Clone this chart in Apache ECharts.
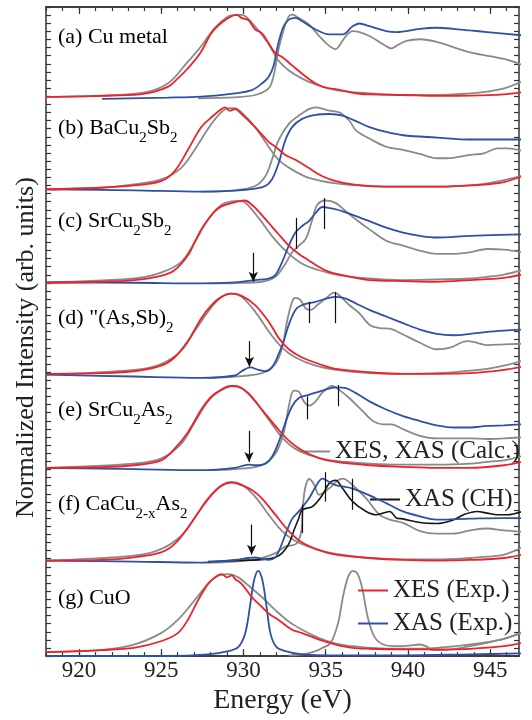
<!DOCTYPE html>
<html>
<head>
<meta charset="utf-8">
<script src="https://cdn.jsdelivr.net/npm/echarts@6/dist/echarts.min.js"></script>
<style>html,body{margin:0;padding:0;background:#fff;}#c{width:532px;height:720px;}</style>
</head>
<body>
<div id="c"></div>
<script>
// ---------- DATA (energy in eV, intensity in normalized arb. units, per panel) ----------
const xTickLabels = [920, 925, 930, 935, 940, 945];
const panelLabels = ['(a) Cu metal', '(b) BaCu{s|2}Sb{s|2}', '(c) SrCu{s|2}Sb{s|2}', '(d) "(As,Sb){s|2}', '(e) SrCu{s|2}As{s|2}', '(f) CaCu{s|2-x}As{s|2}', '(g) CuO'];
const panelOffsets = [603, 503, 403, 304, 203, 103, 4];

const aXesExp = [[918,0],[922,1.4],[924,3.5],[925.4,10.9],[926.0,19.8],[926.6,30.4],[927.4,48],[928.06,69],[928.67,80],[929.28,87],[929.6,88.6],[929.9,85],[930.3,83],[930.7,73],[931.1,69],[931.5,59],[931.9,48],[932.35,43],[932.96,34],[933.57,25],[934.39,14.5],[935.0,10],[935.6,8.5],[936.8,4],[937.7,2.8],[939.7,2.1],[941.75,1.1],[943.8,1.4],[945.8,2.8],[946.9,5]];
const aXesCalc = [[918,0],[921.3,1.4],[924,5],[925.4,14.5],[926.6,37.5],[927.44,55],[928.26,74.6],[929.08,87],[929.49,88.6],[929.9,88.6],[930.7,76],[931.5,58],[932.14,39],[932.76,28.6],[933.57,19.8],[934.39,13.4],[935.62,7.4],[937.66,3.9],[939.7,2.1],[941.75,2.1],[943.79,3.9],[944.8,5.7],[945.84,9.2],[946.9,16.3]];
const aXasExp = [[921.4,-2.1],[925.4,-0.7],[927.44,0.4],[929.49,3.9],[930.51,7.4],[931.12,14.5],[931.53,21.6],[931.84,33.9],[932.04,51.6],[932.24,65.7],[932.45,76.3],[932.76,83.4],[933.16,85.2],[933.57,81.6],[934.39,72.8],[935.21,67.5],[936.03,67.5],[936.64,76.3],[937.05,79.2],[937.66,76.3],[938.68,71],[939.3,70],[940.73,73.5],[941.75,74.6],[942.77,73.5],[943.79,71.7],[944.81,70],[946.94,66.4]];
const aXasCalc = [[927.24,-1.4],[929.49,-0.4],[930.71,2.1],[931.53,9.2],[931.84,23.3],[932.14,51.6],[932.45,72.8],[932.76,86.9],[932.96,88.7],[933.37,85.2],[933.98,78.1],[934.6,65.7],[935.21,55.1],[935.62,51.6],[935.82,55.1],[936.23,65.7],[936.64,71],[937.05,70],[937.66,65.7],[938.48,56.9],[938.99,52.3],[939.3,55.1],[939.91,60.4],[940.73,62.2],[941.75,59.4],[943.79,48.1],[945.84,41],[946.94,34.6]];

const bXesExp = [[918,0.4],[921.31,2.1],[923.35,4.6],[924.99,9.2],[925.81,19.8],[926.62,42.8],[927.44,67.5],[928.06,78.1],[928.67,86.9],[928.87,88.7],[929.18,85.2],[929.49,86.9],[929.89,81.6],[930.71,67.5],[931.53,51.6],[931.94,46.3],[932.55,37.5],[933.16,32.2],[933.98,23.3],[934.8,14.5],[935.62,9.2],[936.64,5.7],[937.66,3.9],[939.7,3.2],[941.75,3.2],[943.79,4.6],[944.81,5.7],[945.84,8.1],[946.94,14.5]];
const bXesCalc = [[918,0.4],[921.31,2.1],[923.35,5.7],[924.99,11],[926.21,23.3],[927.03,42.8],[927.85,65.7],[928.46,79.9],[929.08,88],[929.49,88],[929.89,83.4],[930.71,67.5],[931.53,46.3],[932.14,32.2],[932.96,21.6],[933.98,12.7],[935.62,6.7],[937.66,3.9],[939.7,3.2],[941.75,3.2],[943.79,4.6],[944.81,6.7],[945.84,10.2],[946.94,15.2]];
const bXasExp = [[918,0.4],[923.35,-0.7],[927.44,-2.1],[929.49,-1.1],[930.71,1.1],[931.33,3.9],[931.73,11],[932.14,28.6],[932.55,53.4],[932.96,67.5],[933.57,76.3],[934.39,80.6],[935.21,81.6],[936.03,79.9],[936.84,73.9],[937.66,67.5],[938.68,62.2],[939.7,58.7],[941.75,56.2],[943.79,54.1],[946.94,54.1]];
const bXasCalc = [[927.44,-2.1],[929.49,-0.7],[930.71,3.9],[931.33,14.5],[931.73,32.2],[932.14,53.4],[932.76,71],[933.37,79.9],[933.98,86.9],[934.39,88.7],[935.21,85.2],[935.82,83.4],[936.43,74.6],[936.84,64],[937.66,55.1],[938.68,46.3],[939.7,42.8],[940.73,38.5],[941.75,33.9],[942.36,33.9],[943.79,37.5],[944.61,39.2],[945.43,44.5],[946.04,44.5],[946.94,42]];

const cXesExp = [[918,-0.4],[921.31,0.7],[923.35,2.5],[924.99,7.1],[925.81,13.1],[926.62,29],[927.03,43.1],[927.44,57.2],[927.85,67.8],[928.26,76.7],[928.67,82],[929.28,85.5],[929.69,87.3],[930.1,88.3],[930.51,83.7],[930.92,76.7],[931.53,64.3],[932.14,51.9],[932.76,39.6],[933.37,30.7],[933.98,23.7],[934.6,16.6],[935.21,11.3],[936.03,7.8],[936.84,4.9],[937.66,2.5],[939.7,1.4],[941.75,0.7],[943.79,2.5],[945.84,4.9],[946.94,8.5]];
const cXesCalc = [[918,0],[923.35,4.2],[924.99,10.6],[926.21,21.9],[927.03,43.1],[927.85,67.8],[928.67,83.7],[929.28,87.3],[929.69,88],[930.1,86.2],[930.92,69.6],[931.73,50.2],[932.55,34.3],[933.57,20.1],[934.6,13.1],[935.62,8.5],[937.66,4.2],[939.7,2.5],[941.75,3.2],[943.79,4.2],[944.81,6],[945.84,8.5],[946.94,13.1]];
const cXasExp = [[918,0],[923.35,-0.4],[927.44,-1.1],[929.49,0],[930.71,2.5],[931.53,4.2],[931.94,7.8],[932.35,21.9],[932.76,39.6],[933.16,53.7],[933.57,60.8],[933.98,66.1],[934.39,74.9],[934.8,81.3],[935.21,80.2],[936.03,76.7],[936.84,71.4],[937.66,66.1],[938.68,59],[939.7,53.7],[940.73,50.2],[941.75,48.4],[943.79,50.2],[946.94,51.9]];
const cXasCalc = [[927.85,-1.1],[929.49,-0.7],[931.12,0.7],[931.94,6],[932.55,20.1],[932.96,32.5],[933.37,39.6],[933.78,46.6],[934.19,67.8],[934.49,83.7],[935.0,88.3],[935.62,85.5],[936.23,76.7],[936.84,67.8],[937.66,57.2],[938.68,44.9],[939.7,39.6],[940.73,34.3],[941.75,30.7],[942.77,30.7],[943.79,32.5],[944.81,36],[945.84,35.3],[946.94,32.5]];

const dXesExp = [[918,0.4],[921.31,1.1],[923.35,3.2],[924.99,9.2],[925.81,18],[926.62,35.7],[927.44,60.4],[928.06,74.6],[928.67,83.4],[929.28,86.9],[929.89,84.5],[930.71,74.6],[931.53,56.9],[932.14,39.2],[932.76,26.9],[933.57,18],[934.6,11],[935.62,5.7],[937.66,2.1],[939.7,0.4],[941.75,0.4],[943.79,1.1],[945.84,4.6],[946.94,8.1]];
const dXesCalc = [[918,-0.4],[923.35,4.6],[924.99,11],[926.21,25.1],[927.03,46.3],[927.85,67.5],[928.67,83.4],[929.28,86.9],[929.89,83.4],[930.71,67.5],[931.53,46.3],[932.35,28.6],[933.16,18],[934.39,9.2],[935.62,4.6],[937.66,1.1],[939.7,0.4],[941.75,1.1],[943.79,3.9],[944.81,5.7],[945.84,9.2],[946.94,14.5]];
const dXasExp = [[918,-0.4],[923.35,-2.5],[927.44,-3.9],[929.49,-1.4],[929.89,3.2],[930.41,7.4],[930.92,4.6],[931.33,3.2],[931.73,7.4],[932.14,21.6],[932.45,35.7],[932.76,53.4],[933.16,69.3],[933.57,74.6],[934.39,78.1],[935.21,82.3],[935.62,83.4],[936.23,81.6],[936.84,76.3],[937.66,69.3],[938.68,62.2],[939.7,55.1],[940.73,48.1],[941.75,43.5],[942.77,42],[943.79,43.5],[944.81,45.6],[945.84,47],[946.94,48.1]];
const dXasCalc = [[927.85,-3.9],[929.49,-2.5],[931.12,1.1],[931.94,11],[932.35,28.6],[932.65,56.9],[932.96,78.1],[933.16,82.3],[933.47,79.9],[933.78,71],[934.08,69.3],[934.49,74.6],[935.0,81.6],[935.51,88],[935.82,85.2],[936.43,74.6],[937.05,65.7],[937.66,53.4],[938.27,49.8],[938.89,49.1],[939.7,42.8],[940.73,33.9],[941.75,26.9],[942.57,28.6],[943.59,35.7],[944.2,33.9],[944.81,31.4],[945.84,32.2],[946.94,32.9]];

const eXesExp = [[918,0],[921.31,0.7],[923.35,2.8],[924.99,8.1],[925.81,20.5],[926.62,38.2],[927.44,62.9],[928.06,77],[928.67,84.1],[929.28,88.3],[929.69,87.6],[930.3,80.6],[931.12,62.9],[931.94,45.2],[932.76,29.3],[933.57,18.7],[934.6,10.6],[935.62,6.4],[937.66,2.8],[939.7,1.1],[941.75,0],[943.79,0],[945.84,2.8],[946.94,6.4]];
const eXesCalc = [[918,0],[923.35,4.6],[924.99,9.9],[926.21,25.8],[927.03,48.8],[927.85,71.7],[928.67,84.8],[929.28,88.3],[929.89,85.9],[930.71,71.7],[931.53,52.3],[932.35,32.9],[933.16,20.5],[934.39,11.7],[935.62,7.4],[937.66,4.6],[939.7,3.5],[941.75,3.5],[943.79,4.6],[944.81,6.4],[945.84,8.1],[946.94,12.7]];
const eXasExp = [[918,0],[923.35,-1.4],[927.44,-2.5],[929.49,0],[930.3,3.5],[930.71,2.8],[931.33,4.6],[931.73,11.7],[932.14,27.6],[932.55,48.8],[932.96,66.4],[933.37,75.3],[933.98,78.8],[934.8,83.4],[935.62,86.9],[936.23,85.9],[936.84,80.6],[937.66,71.7],[938.68,62.9],[939.7,55.8],[940.73,50.5],[941.75,45.9],[942.77,43.5],[943.79,43.5],[944.81,45.2],[945.84,45.9],[946.94,47]];
const eXasCalc = [[927.85,-2.5],[929.49,-1.4],[931.12,2.8],[931.94,15.2],[932.45,38.2],[932.76,66.4],[933.06,83.4],[933.37,82.3],[933.67,71.7],[933.98,67.1],[934.39,71.7],[934.8,81.3],[935.41,88.3],[935.82,84.1],[936.43,75.3],[937.25,61.1],[937.87,50.5],[938.48,47],[938.99,47],[939.7,41.7],[940.73,34.6],[941.75,31.8],[942.77,31.8],[943.79,31.8],[944.81,31.1],[945.84,31.8],[946.94,32.9]];

const fXesExp = [[918,0],[921.31,0.7],[923.35,3.5],[924.99,8.8],[925.81,17.7],[926.62,35.3],[927.44,56.5],[928.06,70.7],[928.67,80.6],[929.28,84.1],[929.89,81.3],[930.51,76],[931.12,67.1],[931.94,49.5],[932.76,31.8],[933.57,19.4],[934.6,11.3],[935.62,6.4],[937.66,2.8],[939.7,0.7],[941.75,0],[943.79,0.7],[945.84,2.8],[946.94,6.4]];
const fXesCalc = [[918,0],[923.35,5.3],[924.99,12.4],[926.21,26.5],[927.03,45.9],[927.85,67.1],[928.67,81.3],[929.28,84.8],[929.89,82],[930.71,68.9],[931.53,49.5],[932.35,31.8],[933.16,21.2],[934.39,12.4],[935.62,7.1],[937.66,2.8],[939.7,1.4],[941.75,1.4],[943.79,2.8],[944.81,4.2],[945.84,6.4],[946.94,14.1]];
const fXasExp = [[918,0],[923.35,-1.1],[927.44,-2.1],[929.49,0.7],[930.3,2.8],[930.71,3.5],[931.12,1.8],[931.53,0.7],[931.94,3.5],[932.2,12],[932.55,28],[932.96,45],[933.37,53],[933.98,67],[934.4,80],[934.8,88.3],[935.2,85],[935.6,81.3],[936.64,77.7],[938.07,67],[938.9,60],[939.7,53],[940.73,47.7],[941.75,44.2],[943.79,45.2],[945.84,45.9],[946.94,45.9]];
const fXasCalc = [[927.85,-2.1],[929.49,-1.1],[931.12,2.8],[931.94,8],[932.55,15],[933.2,18],[933.5,30],[933.6,55],[933.75,78],[934.0,88],[934.3,82],[934.6,71],[935.2,77.7],[935.7,86],[936.03,88.3],[936.64,81.3],[937.46,67],[938.27,49.5],[938.89,44.2],[939.7,40.6],[940.73,31.8],[941.75,29],[942.77,29],[943.79,32.5],[944.81,34.6],[945.84,32.5],[946.94,31.1]];
const fXasCH = [[927.85,-1.1],[929.49,0],[931.12,1],[931.94,3.5],[932.35,8],[932.76,18],[933.1,34],[933.37,46],[933.57,54.8],[934.19,58.3],[934.8,70.7],[935.2,83],[935.6,86.6],[936.03,77.7],[936.64,63.6],[937.46,53],[938.07,49.5],[938.89,53],[939.3,46],[939.7,45],[940.73,41],[941.75,40],[942.77,44],[943.38,49.5],[944.2,53],[944.81,51.2],[945.43,49.5],[946.04,49.5],[946.94,53]];

const gXesExp = [[918,0.4],[921.31,2.5],[923.35,4.9],[924.99,12],[926.01,20.8],[926.62,35],[927.24,56.2],[927.85,73.9],[928.26,80.9],[928.67,84.5],[929.0,81],[929.3,83],[929.49,79.2],[929.89,73.9],[930.51,59.7],[931.12,49.1],[931.53,42],[932.14,35],[932.96,24.4],[933.57,20.8],[934.6,13.8],[935.62,8.5],[936.64,4.9],[937.66,3.9],[939.7,3.2],[941.75,3.2],[943.79,3.9],[945.84,6.7],[946.94,10.2]];
const gXesCalc = [[918,0.4],[921.31,2.5],[923.35,8.5],[924.99,20.8],[926.01,35],[927.03,56.2],[927.85,73.9],[928.46,82.7],[929.08,84.5],[929.69,80.9],[930.3,72.1],[931.12,59.7],[931.94,45.6],[932.76,33.2],[933.57,24.4],[934.6,15.5],[935.62,9.5],[936.64,6.7],[937.66,4.9],[939.7,3.9],[941.75,4.9],[943.79,8.5],[944.81,11],[945.84,14.5],[946.94,21.6]];
const gXasExp = [[918,-3.9],[925.4,-3.9],[927.85,-2.1],[929.08,1.4],[929.7,6],[930.1,20],[930.4,50],[930.65,78],[930.9,88],[931.15,78],[931.4,50],[931.65,20],[932.0,6],[932.55,1.4],[933.57,-2.1],[935.62,-3.2],[939.7,-3.2],[943.79,-2.1],[946.94,-1.1]];
const gXasCalc = [[932.76,-3.2],[933.57,-2.1],[934.39,1.4],[934.8,4.9],[935.3,10.2],[935.75,31.4],[936.05,59.7],[936.35,80.9],[936.65,88],[936.95,84.5],[937.25,66.8],[937.55,38.5],[937.95,17.3],[938.5,8.5],[939.3,6.7],[940.1,7.4],[940.7,8.5],[941.1,6.7],[941.5,2.5],[942.2,2.5],[943.8,6.7],[944.8,10.2],[945.8,14.5],[946.9,20.8]];

// vertical feature markers: [energy, low, high] in panel units
const cMarks = [[933.23,36,69.6],[934.9,57.6,90.8]];
const dMarks = [[934.02,55.1,78.1],[935.56,55.1,88.7]];
const eMarks = [[933.88,52.3,77],[935.78,66.4,89.4]];
const fMarks = [[933.57,29.7,60.4],[935.0,63.6,95.4],[936.64,54.8,88.3]];
// arrows: [energy, tail, tip] in panel units
const cArrow = [930.6,32,0.7];
const dArrow = [930.36,35.7,8.1];
const eArrow = [930.34,39.9,6.4];
const fArrow = [930.5,38.9,6.4];

// ---------- CHART ----------
const FONT = 'Liberation Serif';
const C_RED = '#ee2228', C_BLUE = '#2f50a6', C_GRAY = '#8a8a8a', C_BLACK = '#151515';
const N_CALC = 'XES, XAS (Calc.)', N_CH = 'XAS (CH)', N_XES = 'XES (Exp.)', N_XAS = 'XAS (Exp.)';
const X_MIN = 918, X_MAX = 946.75;

const panels = [
  {off: panelOffsets[0], xc: aXesCalc, ac: aXasCalc, xe: aXesExp, ae: aXasExp, marks: [], arrow: null},
  {off: panelOffsets[1], xc: bXesCalc, ac: bXasCalc, xe: bXesExp, ae: bXasExp, marks: [], arrow: null},
  {off: panelOffsets[2], xc: cXesCalc, ac: cXasCalc, xe: cXesExp, ae: cXasExp, marks: cMarks, arrow: cArrow},
  {off: panelOffsets[3], xc: dXesCalc, ac: dXasCalc, xe: dXesExp, ae: dXasExp, marks: dMarks, arrow: dArrow},
  {off: panelOffsets[4], xc: eXesCalc, ac: eXasCalc, xe: eXesExp, ae: eXasExp, marks: eMarks, arrow: eArrow},
  {off: panelOffsets[5], xc: fXesCalc, ac: fXasCalc, xe: fXesExp, ae: fXasExp, ch: fXasCH, marks: fMarks, arrow: fArrow},
  {off: panelOffsets[6], xc: gXesCalc, ac: gXasCalc, xe: gXesExp, ae: gXasExp, marks: [], arrow: null}
];

function curve(name, pts, off, color, width, z) {
  return {
    type: 'line', name: name, data: pts.map(p => [p[0], p[1] + off]),
    symbol: 'none', showSymbol: false, smooth: 0.35, silent: true, clip: true,
    lineStyle: {color: color, width: width}, itemStyle: {color: color}, z: z
  };
}

const series = [];
panels.forEach(p => {
  series.push(curve(N_CALC, p.xc, p.off, C_GRAY, 1.8, 2));
  series.push(curve(N_CALC, p.ac, p.off, C_GRAY, 1.8, 2));
  if (p.ch) series.push(curve(N_CH, p.ch, p.off, C_BLACK, 1.6, 3));
  series.push(curve(N_XAS, p.ae, p.off, C_BLUE, 1.8, 4));
  series.push(curve(N_XES, p.xe, p.off, C_RED, 1.8, 5));
});

const markLines = [];
const arrowLines = [];
panels.forEach(p => {
  p.marks.forEach(m => markLines.push([{coord: [m[0], m[1] + p.off]}, {coord: [m[0], m[2] + p.off]}]));
  if (p.arrow) arrowLines.push([{coord: [p.arrow[0], p.arrow[1] + p.off]}, {coord: [p.arrow[0], p.arrow[2] + p.off]}]);
});
series.push({type: 'line', data: [], silent: true, z: 6,
  markLine: {silent: true, symbol: 'none', animation: false, label: {show: false},
    lineStyle: {color: '#111', width: 1.2, type: 'solid'}, data: markLines}});
series.push({type: 'line', data: [], silent: true, z: 6,
  markLine: {silent: true, symbol: ['none', 'arrow'], symbolSize: [7, 10], animation: false, label: {show: false},
    lineStyle: {color: '#111', width: 1.2, type: 'solid'}, data: arrowLines}});

const minorTicks = [];
for (let v = 918; v <= 946; v++) minorTicks.push(v);

const axisLine = {show: true, lineStyle: {color: '#333', width: 1.5}};
function xAx(pos, major) {
  return {
    type: 'value', min: X_MIN, max: X_MAX, position: pos,
    axisLine: axisLine, splitLine: {show: false},
    axisTick: {show: true, inside: true, length: major ? 7 : 4, lineStyle: {color: '#333', width: 1.2},
      customValues: major ? xTickLabels : minorTicks},
    axisLabel: (pos === 'bottom' && major) ? {show: true, customValues: xTickLabels, fontFamily: FONT, fontSize: 23, color: '#222', margin: 3} : {show: false},
    name: (pos === 'bottom' && major) ? 'Energy (eV)' : '',
    nameLocation: 'middle', nameGap: 23,
    nameTextStyle: {fontFamily: FONT, fontSize: 28, color: '#222'}
  };
}
function yAx(pos) {
  return {
    type: 'value', min: 0, max: 700, interval: 8.75, position: pos,
    axisLine: axisLine, splitLine: {show: false},
    axisTick: {show: true, inside: true, length: 5, lineStyle: {color: '#333', width: 1.2}},
    axisLabel: {show: false},
    name: pos === 'left' ? 'Normalized Intensity (arb. units)' : '',
    nameLocation: 'middle', nameGap: 7,
    nameTextStyle: {fontFamily: FONT, fontSize: 26, color: '#222', padding: [0, 32, 0, 0]}
  };
}

const labelY = [37, 128, 221, 318, 410, 504, 598];
const rich = {
  m: {fontFamily: FONT, fontSize: 22, color: '#222', lineHeight: 36},
  s: {fontFamily: FONT, fontSize: 15, color: '#222', lineHeight: 15, verticalAlign: 'bottom'}
};
const graphic = panelLabels.map((t, i) => {
  const txt = t.split(/(\{s\|[^}]*\})/).filter(x => x).map(x => x.startsWith('{s|') ? x : '{m|' + x + '}').join('');
  return {type: 'text', x: 58, y: labelY[i], silent: true, z: 20,
    style: {text: txt, rich: rich, verticalAlign: 'middle', align: 'left'}};
});

function leg(name, left, top) {
  return {data: [{name: name, icon: 'rect'}], left: left, top: top, padding: 0,
    itemWidth: 30, itemHeight: 2, selectedMode: false,
    textStyle: {fontFamily: FONT, fontSize: 25, color: '#222'}};
}

const chart = echarts.init(document.getElementById('c'), null, {renderer: 'canvas'});
chart.setOption({
  animation: false,
  backgroundColor: '#fff',
  grid: {left: 46, right: 13, top: 7, bottom: 53},
  xAxis: [xAx('bottom', true), xAx('bottom', false), xAx('top', true), xAx('top', false)],
  yAxis: [yAx('left'), yAx('right')],
  legend: [leg(N_CALC, 300, 439), leg(N_CH, 370, 487), leg(N_XES, 358, 578), leg(N_XAS, 358, 611)],
  graphic: graphic,
  series: series
});
</script>
</body>
</html>
